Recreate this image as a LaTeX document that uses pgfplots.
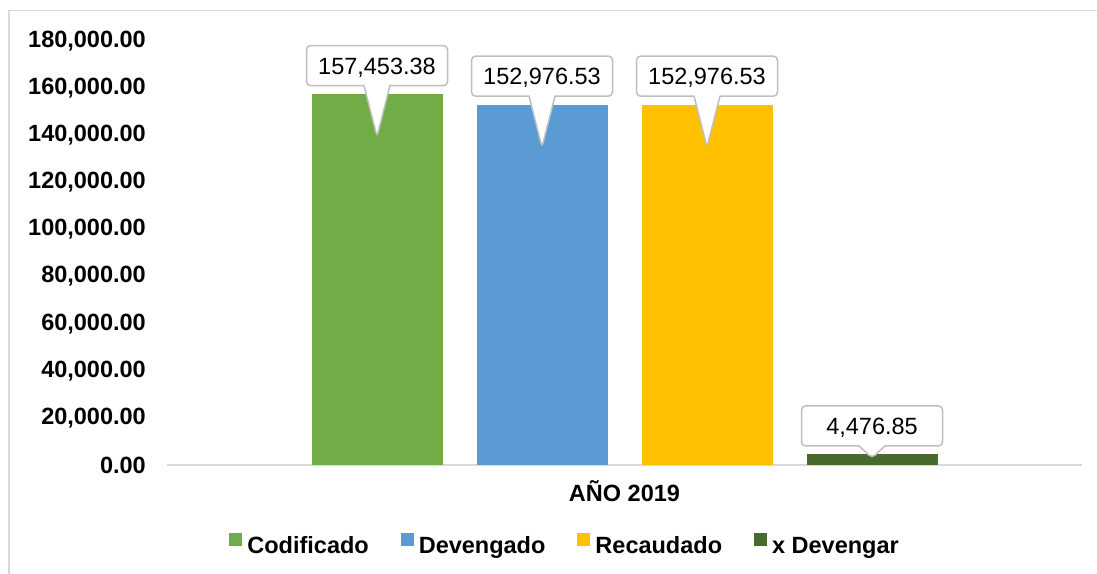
\documentclass[border=0pt]{standalone}
\usepackage{fontspec}
\setmainfont{Liberation Sans}
\usepackage{pgfplots}
\pgfplotsset{compat=1.18}
\usetikzlibrary{shapes.callouts}

\definecolor{codif}{HTML}{70AD47}
\definecolor{deven}{HTML}{5B9BD5}
\definecolor{recau}{HTML}{FFC000}
\definecolor{xdeven}{HTML}{476B2E}
\definecolor{linegray}{HTML}{D9D9D9}
\definecolor{boxgray}{HTML}{BFBFBF}

\begin{document}
\fontsize{23.5bp}{28bp}\selectfont
\begin{tikzpicture}
\useasboundingbox (0,0) rectangle (1097bp,574bp);
\draw[linegray, line width=1.5bp] (9bp,0) -- (9bp,563.5bp) -- (1097bp,563.5bp);
\begin{axis}[
  at={(167bp,109bp)}, anchor=south west,
  scale only axis, width=915bp, height=424bp,
  xmin=-1, xmax=1, ymin=0, ymax=180000,
  ybar=34bp, bar width=131bp,
  axis lines*=left,
  y axis line style={draw=none},
  x axis line style={draw=linegray, line width=1.5bp},
  major tick length=0pt,
  clip=false,
  xtick={0}, xticklabels={AÑO 2019},
  xticklabel style={font=\bfseries, anchor=base, inner sep=0pt, yshift=-37bp},
  ytick={0,20000,...,180000},
  scaled y ticks=false,
  /pgf/number format/assume math mode=true,
  yticklabel style={font=\bfseries, anchor=east, inner sep=0pt, xshift=-21bp,
    /pgf/number format/fixed, /pgf/number format/fixed zerofill,
    /pgf/number format/precision=2, /pgf/number format/1000 sep={,}},
  point meta=explicit symbolic,
  nodes near coords,
  every node near coord/.append style={rectangle callout, draw=boxgray, line width=1.5bp,
    fill=white, rounded corners=4bp, minimum width=141bp, minimum height=40bp,
    text height=17bp, text depth=0bp, inner sep=0pt, anchor=center, yshift=28.5bp,
    callout pointer width=26bp},
  legend columns=4,
  legend style={draw=none, at={(0.434,-0.189)}, anchor=center, font=\bfseries,
    inner sep=0pt, nodes={inner sep=0pt},
    /tikz/every odd column/.append style={column sep=5bp},
    /tikz/every even column/.append style={column sep=32bp}},
  legend image code/.code={\fill[#1] (0bp,0.5bp) rectangle (13bp,13.5bp);},
]
\addplot[fill=codif, draw=none,
  every node near coord/.append style={callout relative pointer={(0bp,-51bp)}}]
  coordinates {(0,157453.38) [157,453.38]};
\addlegendentry{Codificado}
\addplot[fill=deven, draw=none,
  every node near coord/.append style={callout relative pointer={(0bp,-51bp)}}]
  coordinates {(0,152976.53) [152,976.53]};
\addlegendentry{Devengado}
\addplot[fill=recau, draw=none,
  every node near coord/.append style={callout relative pointer={(0bp,-51bp)}}]
  coordinates {(0,152976.53) [152,976.53]};
\addlegendentry{Recaudado}
\addplot[fill=xdeven, draw=none,
  every node near coord/.append style={callout relative pointer={(0bp,-12bp)}}]
  coordinates {(0,4476.85) [4,476.85]};
\addlegendentry{x Devengar}
\end{axis}
\end{tikzpicture}
\end{document}
